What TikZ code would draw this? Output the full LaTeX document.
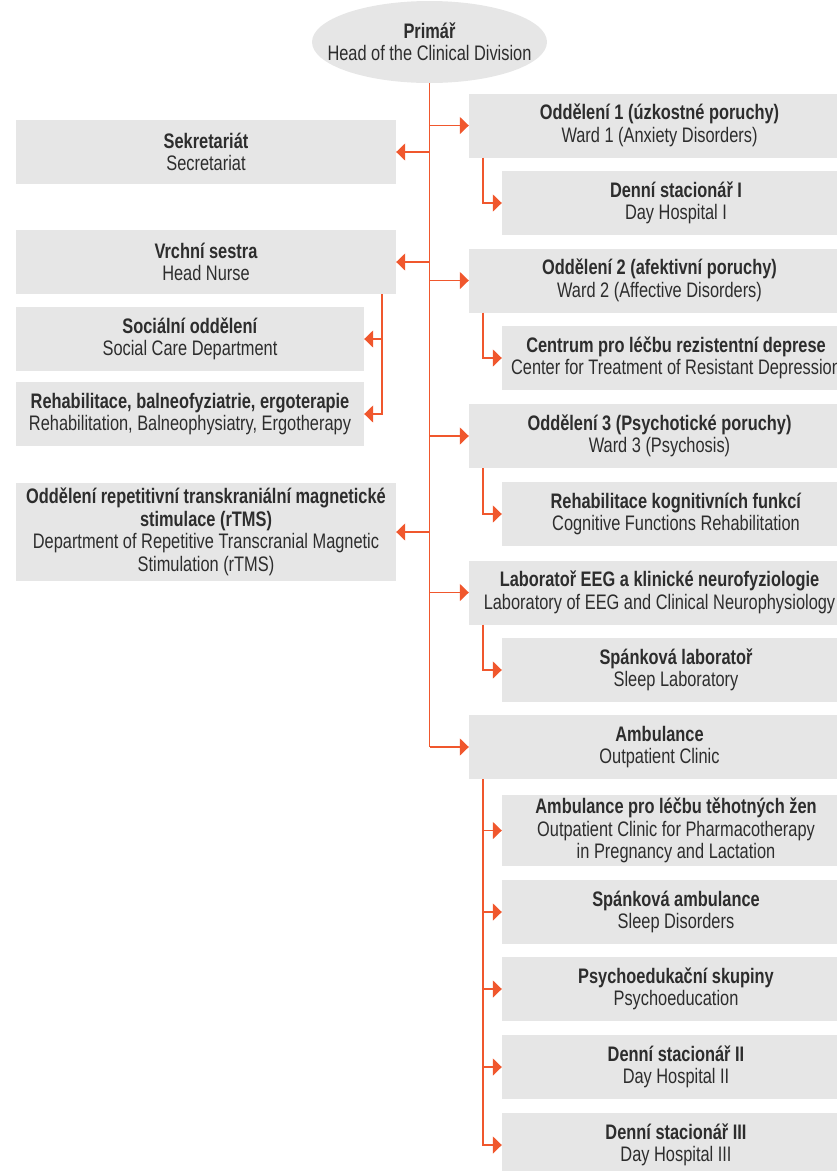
\documentclass[tikz,border=0pt]{standalone}
\usepackage{fontspec}
\setmainfont[FakeStretch=0.78]{Liberation Sans}
\usetikzlibrary{arrows.meta,shapes.geometric}
\definecolor{boxgray}{HTML}{E6E6E6}
\definecolor{linkorange}{HTML}{F0572D}
\definecolor{txtgray}{HTML}{2D2D2D}

\begin{document}
\begin{tikzpicture}[x=1pt,y=-1pt]
        \tikzstyle{every node}=[font=\fontsize{21}{22.5}\selectfont, text=txtgray, align=center, inner sep=0pt]
        \tikzstyle{box}=[fill=boxgray, minimum height=64pt]
        \tikzstyle{wide}=[box, minimum width=381pt]
        \tikzstyle{sub}=[box, minimum width=348pt]
        \tikzstyle{trunk}=[draw=linkorange, line width=1.5pt]
        \tikzstyle{link}=[trunk, -{Triangle[length=9pt,width=17pt]}, color=linkorange]

        \useasboundingbox (0,0) rectangle (837,1171);

        \node (head) [ellipse, fill=boxgray, inner xsep=-40pt, minimum width=235pt, minimum height=82pt] at (429.5,42) {\textbf{Primář}\\Head of the Clinical Division};

        % right column
        \node (w1)   [wide] at (659.5,125.5) {\textbf{Oddělení 1 (úzkostné poruchy)}\\Ward 1 (Anxiety Disorders)};
        \node (dh1)  [sub]  at (676,203)     {\textbf{Denní stacionář I}\\Day Hospital I};
        \node (w2)   [wide] at (659.5,280.5) {\textbf{Oddělení 2 (afektivní poruchy)}\\Ward 2 (Affective Disorders)};
        \node (crd)  [sub]  at (676,358)     {\textbf{Centrum pro léčbu rezistentní deprese}\\Center for Treatment of Resistant Depression};
        \node (w3)   [wide] at (659.5,436)   {\textbf{Oddělení 3 (Psychotické poruchy)}\\Ward 3 (Psychosis)};
        \node (kog)  [sub]  at (676,514)     {\textbf{Rehabilitace kognitivních funkcí}\\Cognitive Functions Rehabilitation};
        \node (eeg)  [wide] at (659.5,592.5) {\textbf{Laboratoř EEG a klinické neurofyziologie}\\Laboratory of EEG and Clinical Neurophysiology};
        \node (slab) [sub]  at (676,670)     {\textbf{Spánková laboratoř}\\Sleep Laboratory};
        \node (amb)  [wide] at (659.5,747)   {\textbf{Ambulance}\\Outpatient Clinic};
        \node (preg) [sub, minimum height=71pt] at (676,830.5) {\textbf{Ambulance pro léčbu těhotných žen}\\Outpatient Clinic for Pharmacotherapy\\in Pregnancy and Lactation};
        \node (samb) [sub]  at (676,912)     {\textbf{Spánková ambulance}\\Sleep Disorders};
        \node (psy)  [sub]  at (676,989)     {\textbf{Psychoedukační skupiny}\\Psychoeducation};
        \node (dh2)  [sub]  at (676,1067)    {\textbf{Denní stacionář II}\\Day Hospital II};
        \node (dh3)  [sub]  at (676,1145)    {\textbf{Denní stacionář III}\\Day Hospital III};

        % left column
        \node (sek)  [box, minimum width=380pt] at (206,152) {\textbf{Sekretariát}\\Secretariat};
        \node (vs)   [box, minimum width=380pt] at (206,262) {\textbf{Vrchní sestra}\\Head Nurse};
        \node (soc)  [sub] at (190,339) {\textbf{Sociální oddělení}\\Social Care Department};
        \node (reh)  [sub] at (190,414) {\textbf{Rehabilitace, balneofyziatrie, ergoterapie}\\Rehabilitation, Balneophysiatry, Ergotherapy};
        \node (rtms) [box, minimum width=380pt, minimum height=98pt] at (206,532) {\textbf{Oddělení repetitivní transkraniální magnetické}\\\textbf{stimulace (rTMS)}\\Department of Repetitive Transcranial Magnetic\\Stimulation (rTMS)};

        \draw[trunk] (head.south) -- (head.south |- amb.west);

        \foreach \n in {w1, w2, w3, eeg, amb}
            \draw[link] (head.south |- \n.west) -- (\n.west);
        \foreach \n in {sek, vs, rtms}
            \draw[link] (head.south |- \n.east) -- (\n.east);

        \draw[link] ([xshift=14pt]w1.south west) |- (dh1.west);
        \draw[link] ([xshift=14pt]w2.south west) |- (crd.west);
        \draw[link] ([xshift=14pt]w3.south west) |- (kog.west);
        \draw[link] ([xshift=14pt]eeg.south west) |- (slab.west);
        \foreach \n in {preg, samb, psy, dh2, dh3}
            \draw[link] ([xshift=14pt]amb.south west) |- (\n.west);

        \foreach \n in {soc, reh}
            \draw[link] ([xshift=-14pt]vs.south east) |- (\n.east);
    \end{tikzpicture}
\end{document}
